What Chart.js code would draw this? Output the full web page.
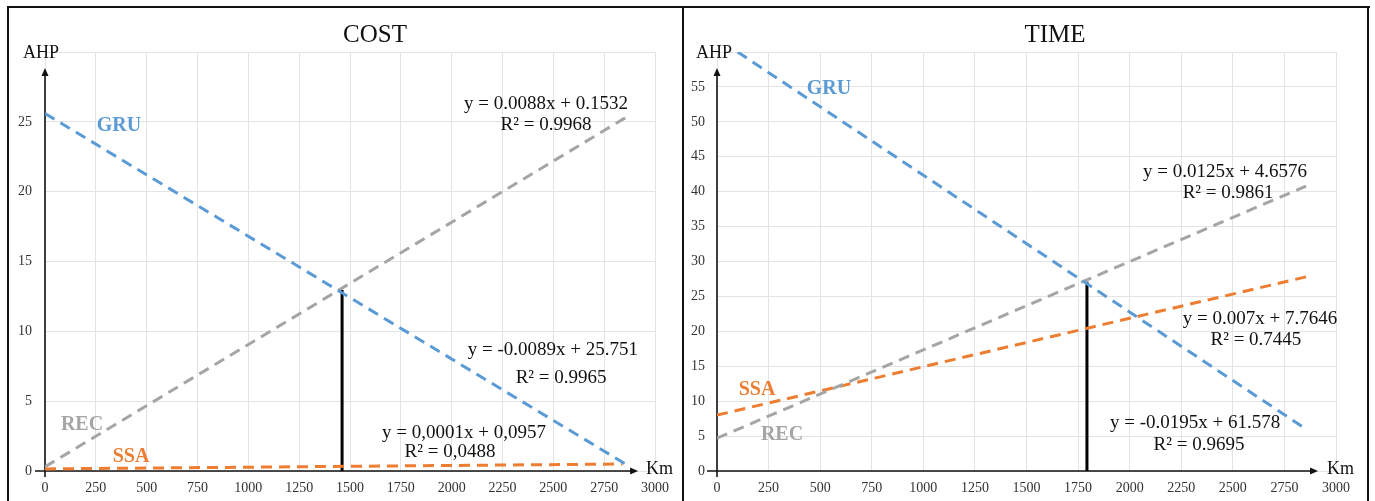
<!DOCTYPE html>
<html><head><meta charset="utf-8">
<script src="https://cdn.jsdelivr.net/npm/chart.js@4.4.1/dist/chart.umd.min.js"></script>
<style>
html,body{margin:0;padding:0;background:#fff;width:1375px;height:501px;overflow:hidden;}
.c{position:absolute;top:0;height:501px;}
.ln{position:absolute;background:#111;}
</style></head><body>
<div class="c" style="left:0;width:684px"><canvas id="cost" width="684" height="501"></canvas></div>
<div class="c" style="left:684px;width:691px"><canvas id="time" width="691" height="501"></canvas></div>
<div class="ln" style="left:7px;top:6px;width:1363px;height:2px"></div>
<div class="ln" style="left:7px;top:6px;width:2px;height:495px"></div>
<div class="ln" style="left:682px;top:6px;width:2px;height:495px"></div>
<div class="ln" style="left:1367px;top:6px;width:2px;height:495px"></div>
<script>
// ---------- data ----------
const xTickStep = 250;            // km
const xMax = 3000;

// COST panel
const costKm        = [0, 2855];
const costGRU       = [25.6, 0.5];
const costREC       = [0.3, 25.3];
const costSSAKm     = [0, 2840];
const costSSA       = [0.15, 0.5];
const costCutKm     = [1461, 1461];
const costCutAhp    = [0, 12.96];
const costYMax = 30, costYStep = 5;

// TIME panel
const timeGRUKm     = [100, 2855];
const timeGRU       = [60.0, 6.0];
const timeKm        = [0, 2855];
const timeREC       = [4.7, 40.8];
const timeSSA       = [8.0, 27.8];
const timeCutKm     = [1793, 1793];
const timeCutAhp    = [0, 27.1];
const timeYMax = 60, timeYStep = 5;

// trend-line equations
const costEq = [
  ["y = 0.0088x + 0.1532", "R² = 0.9968"],
  ["y = -0.0089x + 25.751", "R² = 0.9965"],
  ["y = 0,0001x + 0,0957", "R² = 0,0488"]
];
const timeEq = [
  ["y = 0.0125x + 4.6576", "R² = 0.9861"],
  ["y = 0.007x + 7.7646", "R² = 0.7445"],
  ["y = -0.0195x + 61.578", "R² = 0.9695"]
];

// ---------- styles ----------
const BLUE = '#5B9BD5', ORANGE = '#ED7D31', GRAY = '#A5A5A5';
const SERIF = '"Liberation Serif", "Times New Roman", serif';
const pts = (xs, ys) => xs.map((x, i) => ({x, y: ys[i]}));

function dashed(label, data, color){
  return {label, data, borderColor: color, borderWidth: 3, borderDash: [11, 7],
          pointRadius: 0, fill: false, tension: 0};
}
function solid(label, data){
  return {label, data, borderColor: '#000', borderWidth: 3, pointRadius: 0, fill: false};
}

const annot = {
  id: 'annot',
  beforeDatasetsDraw(chart, args, o){
    const {ctx, chartArea: a, scales: {x, y}} = chart;
    ctx.save();
    ctx.strokeStyle = '#111'; ctx.fillStyle = '#111'; ctx.lineWidth = 1.6;
    // y axis with arrow
    const yTip = y.getPixelForValue(o.yTip);
    ctx.beginPath(); ctx.moveTo(a.left, a.bottom + 6); ctx.lineTo(a.left, yTip + 6); ctx.stroke();
    ctx.beginPath(); ctx.moveTo(a.left, yTip); ctx.lineTo(a.left - 3.5, yTip + 8); ctx.lineTo(a.left + 3.5, yTip + 8); ctx.closePath(); ctx.fill();
    // x axis with arrow
    const xTip = x.getPixelForValue(o.xTip);
    ctx.beginPath(); ctx.moveTo(a.left - 10, a.bottom); ctx.lineTo(xTip - 6, a.bottom); ctx.stroke();
    ctx.beginPath(); ctx.moveTo(xTip, a.bottom); ctx.lineTo(xTip - 8, a.bottom - 3.5); ctx.lineTo(xTip - 8, a.bottom + 3.5); ctx.closePath(); ctx.fill();
    ctx.restore();
  },
  afterDraw(chart, args, o){
    const {ctx, scales: {x, y}} = chart;
    ctx.save();
    ctx.textBaseline = 'middle';
    for (const t of o.texts){
      ctx.font = t.font; ctx.fillStyle = t.color || '#111';
      ctx.textAlign = t.align || 'center';
      const px = x.getPixelForValue(t.x);
      const py = t.py !== undefined ? t.py : y.getPixelForValue(t.y);
      ctx.fillText(t.text, px, py);
    }
    ctx.restore();
  }
};

function makeChart(id, datasets, yMax, yStep, pad, yW, yPad, texts, yTip, xTip){
  return new Chart(document.getElementById(id), {
    type: 'line',
    data: {datasets},
    plugins: [annot],
    options: {
      responsive: false, animation: false, devicePixelRatio: 1,
      layout: {padding: pad},
      plugins: {legend: {display: false}, tooltip: {enabled: false}, title: {display: false},
        annot: {texts, yTip, xTip}},
      scales: {
        x: {type: 'linear', min: 0, max: xMax,
            border: {display: false},
            grid: {color: '#e3e3e3', lineWidth: 1, drawTicks: false},
            ticks: {stepSize: xTickStep, padding: 9, color: '#333', maxRotation: 0, autoSkip: false,
                    font: {family: SERIF, size: 14}, callback: v => String(v)},
            afterFit: s => { s.height = 30; }},
        y: {type: 'linear', min: 0, max: yMax,
            border: {display: false},
            grid: {color: '#e3e3e3', lineWidth: 1, drawTicks: false},
            ticks: {stepSize: yStep, padding: yPad, color: '#333',
                    font: {family: SERIF, size: 14}, callback: v => v === yMax ? '' : String(v)},
            afterFit: s => { s.width = yW; }}
      }
    }
  });
}

const EQ = '19px ' + SERIF, LBL = 'bold 20px ' + SERIF, AX = '18px ' + SERIF, TT = '25px ' + SERIF;

makeChart('cost', [
  dashed('GRU', pts(costKm, costGRU), BLUE),
  dashed('REC', pts(costKm, costREC), GRAY),
  dashed('SSA', pts(costSSAKm, costSSA), ORANGE),
  solid('cut', pts(costCutKm, costCutAhp))
], costYMax, costYStep, {left: 10, right: 29, top: 52, bottom: 0}, 35, 13, [
  {text: 'COST', x: 1623, py: 35, font: TT},
  {text: 'AHP', x: -20, py: 53, font: AX},
  {text: 'Km', x: 2956, py: 469, font: AX, align: 'left'},
  {text: 'GRU', x: 364, y: 24.7, font: LBL, color: BLUE},
  {text: 'REC', x: 182, y: 3.3, font: LBL, color: GRAY},
  {text: 'SSA', x: 423, y: 1.0, font: LBL, color: ORANGE},
  {text: costEq[0][0], x: 2464, y: 26.3, font: EQ},
  {text: costEq[0][1], x: 2464, y: 24.8, font: EQ},
  {text: costEq[1][0], x: 2498, y: 8.66, font: EQ},
  {text: costEq[1][1], x: 2538, y: 6.66, font: EQ},
  {text: costEq[2][0], x: 2061, y: 2.72, font: EQ},
  {text: costEq[2][1], x: 1992, y: 1.36, font: EQ}
], 28.85, 2917);

makeChart('time', [
  dashed('GRU', pts(timeGRUKm, timeGRU), BLUE),
  dashed('REC', pts(timeKm, timeREC), GRAY),
  dashed('SSA', pts(timeKm, timeSSA), ORANGE),
  solid('cut', pts(timeCutKm, timeCutAhp))
], timeYMax, timeYStep, {left: 3, right: 39, top: 52, bottom: 0}, 30, 12, [
  {text: 'TIME', x: 1638, py: 35, font: TT},
  {text: 'AHP', x: -15, py: 53, font: AX},
  {text: 'Km', x: 2956, py: 469, font: AX, align: 'left'},
  {text: 'GRU', x: 543, y: 54.7, font: LBL, color: BLUE},
  {text: 'SSA', x: 194, y: 11.6, font: LBL, color: ORANGE},
  {text: 'REC', x: 315, y: 5.2, font: LBL, color: GRAY},
  {text: timeEq[0][0], x: 2462, y: 42.8, font: EQ},
  {text: timeEq[0][1], x: 2477, y: 39.8, font: EQ},
  {text: timeEq[1][0], x: 2632, y: 21.8, font: EQ},
  {text: timeEq[1][1], x: 2612, y: 18.7, font: EQ},
  {text: timeEq[2][0], x: 2317, y: 6.9, font: EQ},
  {text: timeEq[2][1], x: 2336, y: 3.7, font: EQ}
], 57.7, 2913);
</script>
</body></html>
